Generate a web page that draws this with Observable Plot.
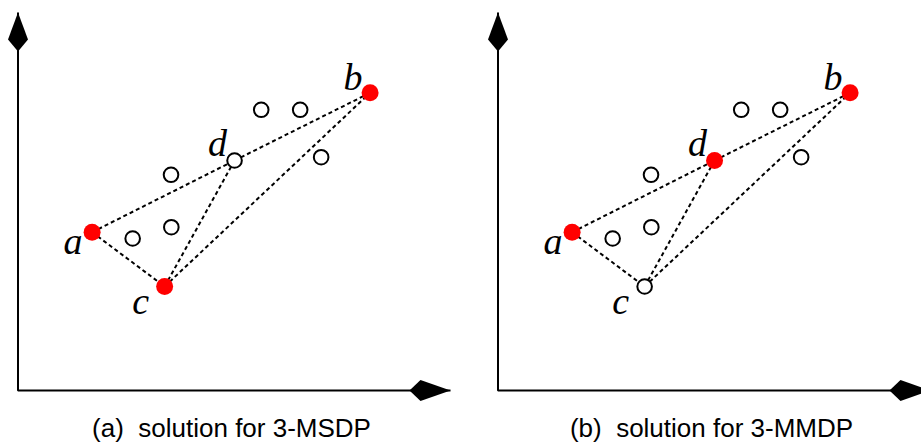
<!DOCTYPE html>
<html>
<head>
<meta charset="utf-8">
<script src="https://cdn.jsdelivr.net/npm/d3@7"></script>
<script src="https://cdn.jsdelivr.net/npm/@observablehq/plot@0.6"></script>
<style>
  html, body { margin: 0; padding: 0; background: #fff; }
  body { width: 921px; }
  #row { display: flex; width: 921px; overflow: hidden; }
  .panel { flex: 0 0 480px; width: 480px; }
  .cap { font-family: "Liberation Sans", Arial, sans-serif; font-size: 26px; line-height: 28px; height: 28px;
         text-align: center; white-space: pre; color: #000; margin-top: -3px; }
</style>
</head>
<body>
<div id="row"></div>
<script>
// ---- data ----
const pointNames = ["a", "b", "c", "d", "e", "f", "g", "h", "i", "j"];
const pointX = [7.42, 35.25, 14.68, 21.68, 11.48, 15.35, 15.32, 24.35, 28.25, 30.35];
const pointY = [15.83, 29.77, 10.4, 23.0, 15.2, 16.33, 21.57, 28.07, 28.07, 23.33];
const labeledPoints = ["a", "b", "c", "d"];
const edgeFrom = ["a", "d", "a", "c", "c"];
const edgeTo = ["d", "b", "c", "d", "b"];
const panelCaptions = ["(a)  solution for 3-MSDP", "(b)  solution for 3-MMDP"];
const panelSelected = [["a", "b", "c"], ["a", "b", "d"]];
const xMax = 43.3;
const yMax = 37.8;

// ---- arrowhead symbols (filled kites, tip at the anchor point) ----
const arrowUp = {
  draw(ctx, size) {
    const s = Math.sqrt(size / Math.PI) / 10;
    ctx.moveTo(0, 0);
    ctx.lineTo(10 * s, 27 * s);
    ctx.lineTo(0, 39 * s);
    ctx.lineTo(-10 * s, 27 * s);
    ctx.closePath();
  }
};
const arrowRight = {
  draw(ctx, size) {
    const s = Math.sqrt(size / Math.PI) / 10;
    ctx.moveTo(0, 0);
    ctx.lineTo(-30 * s, -10.5 * s);
    ctx.lineTo(-41 * s, 0);
    ctx.lineTo(-30 * s, 10.5 * s);
    ctx.closePath();
  }
};

const labelStyle = {fontFamily: "'Liberation Serif', 'Times New Roman', serif", fontStyle: "italic",
                    fontSize: 38, textAnchor: "middle", lineAnchor: "bottom", fill: "black"};
const labelShift = {a: [-19, 22], b: [-17, -3], c: [-24, 27], d: [-17, -5]};

function panel(i) {
  const pts = pointNames.map((n, k) => ({name: n, x: pointX[k], y: pointY[k], sel: panelSelected[i].includes(n)}));
  const byName = Object.fromEntries(pts.map(p => [p.name, p]));
  const edges = edgeFrom.map((f, k) => ({a: byName[f], b: byName[edgeTo[k]]}));
  const labels = labeledPoints.map(n =>
    Plot.text([byName[n]], {x: "x", y: "y", text: "name", dx: labelShift[n][0], dy: labelShift[n][1], ...labelStyle})
  );
  return Plot.plot({
    width: 480, height: 417,
    marginLeft: 17.5, marginRight: 30, marginTop: 12, marginBottom: 27,
    x: {domain: [0, xMax], axis: null},
    y: {domain: [0, yMax], axis: null},
    marks: [
      Plot.line([[0, yMax], [0, 0], [xMax, 0]], {x: d => d[0], y: d => d[1], stroke: "black", strokeWidth: 2,
                 strokeLinejoin: "miter", strokeLinecap: "butt"}),
      Plot.dot([[0, yMax]], {x: d => d[0], y: d => d[1], symbol: arrowUp, r: 10, fill: "black", stroke: "none"}),
      Plot.dot([[xMax, 0]], {x: d => d[0], y: d => d[1], symbol: arrowRight, r: 10, fill: "black", stroke: "none"}),
      Plot.link(edges, {x1: d => d.a.x, y1: d => d.a.y, x2: d => d.b.x, y2: d => d.b.y,
                        stroke: "black", strokeWidth: 2, strokeDasharray: "4,3"}),
      Plot.dot(pts.filter(p => !p.sel), {x: "x", y: "y", r: 7.3, fill: "white", stroke: "black", strokeWidth: 2}),
      Plot.dot(pts.filter(p => p.sel), {x: "x", y: "y", r: 8.5, fill: "#ff0000", stroke: "none"}),
      ...labels
    ]
  });
}

const row = document.getElementById("row");
panelCaptions.forEach((cap, i) => {
  const div = document.createElement("div");
  div.className = "panel";
  div.appendChild(panel(i));
  const c = document.createElement("div");
  c.className = "cap";
  c.style.width = "463px";
  c.textContent = cap;
  div.appendChild(c);
  row.appendChild(div);
});
</script>
</body>
</html>
